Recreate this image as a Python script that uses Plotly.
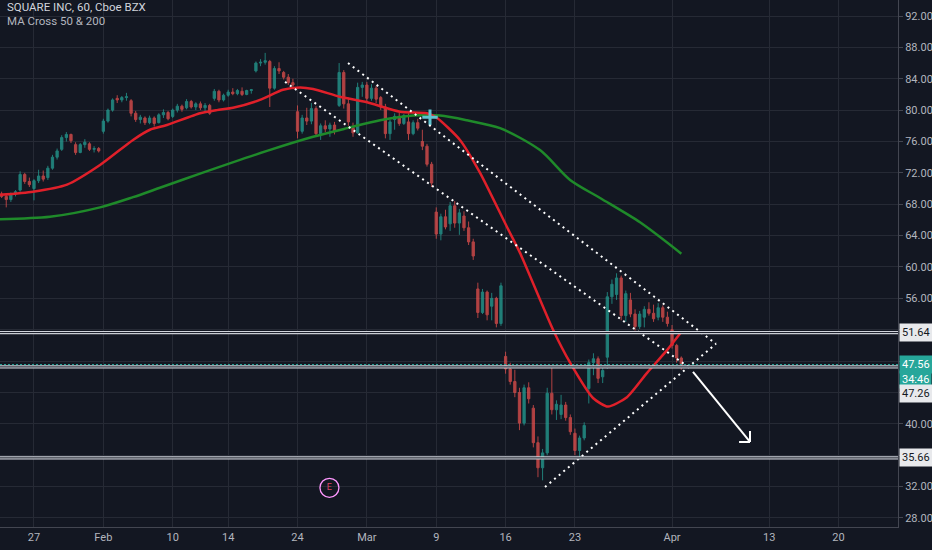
import plotly.graph_objects as go
import pandas as pd

# trading calendar (NYSE holidays inside the window removed)
holidays = ["2020-02-17", "2020-04-10"]
calendar = pd.bdate_range("2020-01-22", "2020-04-30").drop(pd.to_datetime(holidays))
origin = calendar.get_loc(pd.Timestamp("2020-01-27"))

session_dates = [d.strftime("%Y-%m-%d") for d in calendar if d <= pd.Timestamp("2020-04-01")]
bars_per_session = 3

# OHLC, 3 bars per session (Jan 22 ... Apr 1)
bar_open = [
    69.2, 69.5, 69.3,  69.0, 68.6, 69.3,  69.8, 71.8, 70.9,  70.0, 71.0, 71.6,
    71.4, 72.6, 74.0,  75.0, 76.5, 76.9,  75.6, 74.6, 75.6,  75.7, 75.0, 75.1,
    77.3, 78.6, 80.0,  81.5, 81.3, 81.6,  81.2, 79.6, 78.8,  79.0, 78.4, 79.0,
    78.4, 79.4, 79.7,  79.2, 80.0, 80.5,  80.3, 81.1, 80.4,  80.8, 80.3, 80.6,
    81.5, 82.4, 81.3,  81.9, 82.3, 82.1,  82.4, 82.0, 82.5,  85.0, 86.0, 86.1,
    86.2, 82.8, 85.3,  84.8, 84.2, 83.5,  79.8, 77.3, 79.0,  78.6, 80.2, 77.0,
    78.0, 77.6, 78.1,  80.6, 84.8, 80.8,  77.8, 77.1, 82.9,  83.2, 81.5, 82.8,
    81.6, 80.4, 77.0,  78.8, 79.2, 78.3,  78.5, 77.0, 78.4,  76.0, 75.4, 73.1,
    67.0, 64.2, 66.4,  65.5, 67.8, 65.6,  66.5, 65.0, 63.2,  57.2, 54.2, 56.8,
    55.0, 56.0, 52.8,  48.6, 47.0, 45.4,  44.0, 40.1, 44.6,  42.0, 37.6, 34.4,
    36.3, 43.9, 41.8,  41.2, 42.4, 40.8,  38.8, 36.6, 38.2,  44.5, 47.8, 48.3,
    46.0, 48.5, 56.2,  56.5, 58.6, 53.8,  55.8, 54.0, 52.4,  53.6, 54.6, 54.1,
    53.6, 54.8, 53.6,  52.0, 50.0, 48.4,
]
bar_high = [
    69.8, 69.9, 69.6,  69.4, 69.5, 69.8,  72.2, 72.0, 71.4,  71.2, 72.4, 72.3,
    72.9, 74.3, 75.1,  76.8, 77.2, 77.0,  75.9, 75.8, 76.3,  75.9, 75.4, 75.3,
    78.9, 80.2, 81.5,  81.9, 81.8, 82.2,  81.4, 79.9, 79.4,  79.2, 79.3, 79.2,
    79.6, 80.1, 79.9,  80.2, 80.8, 80.7,  81.4, 81.3, 81.0,  81.1, 80.9, 80.8,
    82.7, 82.6, 82.1,  82.6, 82.8, 82.7,  82.9, 82.6, 82.7,  86.2, 86.5, 87.3,
    86.4, 85.6, 86.1,  85.0, 84.6, 84.0,  80.6, 79.4, 80.3,  80.9, 80.5, 78.3,
    78.7, 78.4, 78.5,  86.0, 85.1, 81.6,  78.4, 83.5, 83.6,  83.6, 83.3, 83.1,
    81.8, 80.8, 78.8,  79.6, 79.7, 79.5,  79.6, 78.7, 78.9,  77.5, 75.7, 73.4,
    67.6, 66.8, 67.3,  68.3, 68.4, 67.4,  67.1, 65.8, 63.6,  58.0, 57.2, 57.0,
    56.7, 56.2, 58.0,  49.2, 47.8, 46.9,  44.6, 45.0, 45.3,  42.4, 38.4, 36.8,
    44.6, 47.3, 43.0,  43.7, 42.8, 41.2,  39.4, 38.5, 40.2,  48.2, 49.0, 48.6,
    47.2, 56.8, 58.4,  59.2, 58.9, 57.0,  56.7, 54.6, 54.4,  55.0, 55.5, 55.2,
    55.4, 55.1, 54.3,  52.6, 50.2, 48.6,
]
bar_low = [
    68.9, 69.0, 68.8,  67.6, 68.3, 69.0,  69.6, 70.6, 70.2,  68.5, 70.7, 70.9,
    71.1, 72.4, 73.7,  74.8, 76.0, 75.8,  74.3, 74.5, 75.2,  74.8, 74.6, 74.6,
    77.0, 78.4, 79.8,  80.9, 81.0, 81.2,  79.2, 78.5, 78.3,  78.1, 78.2, 77.9,
    78.3, 79.0, 78.7,  79.0, 79.7, 79.8,  80.1, 80.2, 80.0,  80.0, 79.9, 79.4,
    81.2, 81.0, 81.1,  81.7, 81.9, 81.9,  81.8, 81.9, 82.1,  84.8, 85.6, 85.8,
    80.4, 82.6, 84.6,  83.9, 83.2, 82.9,  76.4, 77.0, 78.1,  78.2, 76.6, 76.2,
    77.2, 76.6, 76.9,  80.4, 80.2, 78.0,  76.6, 77.0, 81.7,  81.0, 81.2, 80.9,
    80.0, 76.4, 76.2,  77.5, 78.0, 78.1,  76.2, 76.8, 77.4,  74.9, 72.8, 70.2,
    63.6, 63.4, 64.8,  64.6, 65.0, 64.1,  64.6, 62.8, 60.9,  53.5, 54.0, 53.2,
    53.2, 52.3, 52.5,  46.4, 45.0, 43.4,  39.2, 39.8, 42.6,  37.0, 33.2, 32.8,
    36.0, 41.2, 40.5,  40.6, 40.4, 38.6,  36.0, 35.7, 37.9,  42.6, 46.2, 45.2,
    45.2, 47.0, 55.3,  55.8, 53.2, 53.0,  53.6, 51.9, 52.1,  52.3, 53.8, 53.0,
    53.2, 53.0, 52.4,  49.6, 47.8, 46.9,
]
bar_close = [
    69.5, 69.3, 69.0,  68.6, 69.3, 69.6,  71.8, 70.9, 70.5,  71.0, 71.6, 71.2,
    72.6, 74.0, 74.8,  76.5, 76.9, 76.1,  74.6, 75.6, 75.9,  75.0, 75.1, 74.8,
    78.6, 80.0, 81.3,  81.3, 81.6, 81.7,  79.6, 78.8, 79.1,  78.4, 79.0, 78.3,
    79.4, 79.7, 78.9,  80.0, 80.5, 80.1,  81.1, 80.4, 80.8,  80.3, 80.6, 79.6,
    82.4, 81.3, 81.9,  82.3, 82.1, 82.5,  82.0, 82.5, 82.6,  86.0, 86.1, 86.3,
    82.8, 85.3, 85.0,  84.2, 83.5, 83.2,  77.3, 79.0, 78.6,  80.2, 77.0, 78.0,
    77.6, 78.1, 77.3,  84.8, 80.8, 78.5,  77.1, 82.9, 83.2,  81.5, 82.8, 81.4,
    80.4, 77.0, 78.5,  79.2, 78.3, 79.3,  77.0, 78.4, 77.7,  75.4, 73.1, 70.7,
    64.2, 66.4, 65.1,  67.8, 65.6, 66.9,  65.0, 63.2, 61.4,  54.2, 56.8, 53.9,
    56.0, 52.8, 57.6,  47.0, 45.4, 44.0,  40.1, 44.6, 43.2,  37.6, 34.4, 36.3,
    43.9, 41.8, 42.5,  42.4, 40.8, 39.0,  36.6, 38.2, 39.8,  47.8, 48.3, 45.8,
    46.8, 56.2, 57.8,  58.6, 53.8, 56.6,  54.0, 52.4, 54.0,  54.6, 54.1, 53.4,
    54.8, 53.6, 52.8,  50.0, 48.4, 47.56,
]

# moving averages, sampled (position in sessions from Jan 27, value)
ma50_pos = [-2.45, -0.07, 2.38, 4.76, 7.14, 8.36, 9.59, 11.97, 13.19, 14.35, 16.29, 17.95,
            19.18, 20.12, 22.06, 24.01, 26.39, 28.33, 29.06, 30.71, 32.16, 34.10, 35.04,
            37.42, 38.65, 40.30, 41.38, 42.75, 44.20, 45.64, 46.67]
ma50_val = [69.2, 69.6, 70.5, 73.0, 76.2, 77.5, 78.1, 79.6, 80.0, 80.3, 81.3, 82.6,
            82.9, 82.7, 81.7, 81.0, 79.8, 79.6, 79.0, 76.2, 72.0, 65.1, 61.8,
            52.0, 47.8, 43.3, 42.2, 43.4, 46.5, 49.4, 51.7]
ma200_pos = [-2.45, 1.15, 4.76, 7.14, 9.08, 11.97, 16.8, 20.12, 22.57, 24.95, 27.33,
             29.27, 31.22, 33.6, 36.48, 38.65, 40.81, 43.69, 46.67]
ma200_val = [66.1, 66.4, 67.6, 68.9, 70.1, 71.9, 74.8, 76.6, 77.7, 78.7, 79.3,
             79.3, 78.7, 77.7, 74.9, 71.1, 68.8, 65.7, 61.7]
ma_cross = (28.55, 79.1)

# drawings
wedge_upper = ([22.64, 49.17], [86.0, 50.2])
wedge_lower = ([18.10, 47.30], [83.6, 47.1])
wedge_base = ([36.84, 49.17], [31.95, 50.2])
arrow_path = ([47.51, 51.62, None, 51.62, 51.62, None, 51.62, 50.83],
              [46.62, 37.69, None, 37.69, 39.09, None, 37.69, 37.69])
levels = [51.64, 47.26, 35.66]
last_price = 47.56
countdown = "34:46"
earnings_day = 21.3

tick_dates = ["2020-01-27", "2020-02-03", "2020-02-10", "2020-02-14", "2020-02-24", "2020-03-02",
              "2020-03-09", "2020-03-16", "2020-03-23", "2020-04-01", "2020-04-13", "2020-04-20"]
tick_text = ["27", "Feb", "10", "14", "24", "Mar", "9", "16", "23", "Apr", "13", "20"]
price_ticks = list(range(28, 93, 4))
hidden_ticks = [36, 44, 48, 52]

#%%
def pos(date):
    return calendar.get_loc(pd.Timestamp(date)) - origin

bar_x = []
for d in session_dates:
    for k in range(bars_per_session):
        bar_x.append(pos(d) + k / bars_per_session)

BG = "#131722"
GRID = "#262a35"
TXT = "#b2b5be"
UP, DOWN = "#26a69a", "#ef5350"
FONT = "Roboto"

fig = go.Figure()

fig.add_trace(go.Candlestick(
    x=bar_x, open=bar_open, high=bar_high, low=bar_low, close=bar_close,
    increasing=dict(line=dict(color=UP, width=1), fillcolor=UP),
    decreasing=dict(line=dict(color=DOWN, width=1), fillcolor=DOWN),
    opacity=0.72, whiskerwidth=0, hoverinfo="skip"))

fig.add_trace(go.Scatter(x=ma200_pos, y=ma200_val, mode="lines",
                         line=dict(color="#1f8a2a", width=2.5, shape="spline", smoothing=0.8)))
fig.add_trace(go.Scatter(x=ma50_pos, y=ma50_val, mode="lines",
                         line=dict(color="#e0202a", width=2.5, shape="spline", smoothing=0.6)))
fig.add_trace(go.Scatter(x=[ma_cross[0]], y=[ma_cross[1]], mode="markers",
                         marker=dict(symbol="cross-thin", size=11,
                                     line=dict(color="#5fc4d0", width=3))))

# horizontal levels (double white lines)
for lv in levels:
    fig.add_hline(y=lv, line=dict(color="#d1d4dc", width=3.2))
    fig.add_hline(y=lv, line=dict(color=BG, width=1.0))
fig.add_hline(y=last_price, line=dict(color=UP, width=1, dash="2px,2px"))

# wedge / channel drawn with dots
for seg in (wedge_upper, wedge_lower, wedge_base):
    fig.add_trace(go.Scatter(x=seg[0], y=seg[1], mode="lines",
                             line=dict(color="#ffffff", width=2, dash="2px,4px")))
fig.add_trace(go.Scatter(x=arrow_path[0], y=arrow_path[1], mode="lines",
                         line=dict(color="#ffffff", width=2)))

# earnings marker
fig.add_trace(go.Scatter(x=[earnings_day], y=[31.85], mode="markers+text", text=["E"],
                         textposition="middle center",
                         textfont=dict(color="#d8436a", size=9, family=FONT),
                         marker=dict(symbol="circle-open", size=19,
                                     line=dict(color="#b7284f", width=1.3))))

# price scale labels
boxes = [(levels[0], levels[0], 0, "#e8e9ec", BG),
         (last_price, last_price, 0, UP, "#ffffff"),
         (last_price, countdown, -15, UP, "#ffffff"),
         (levels[1], levels[1], -27, "#e8e9ec", BG),
         (levels[2], levels[2], 0, "#e8e9ec", BG)]
for y, label, shift, bg, fg in boxes:
    txt = label if isinstance(label, str) else f"{label:.2f}"
    fig.add_annotation(x=1, xref="paper", y=y, yref="y", yshift=shift, text=txt,
                       xanchor="left", yanchor="middle", showarrow=False, xshift=1,
                       bgcolor=bg, borderpad=2, font=dict(color=fg, size=11, family=FONT))

fig.add_annotation(x=0.006, y=0.986, xref="paper", yref="paper", xanchor="left", yanchor="middle",
                   text="SQUARE INC, 60, Cboe BZX", showarrow=False,
                   font=dict(color="#d1d4dc", size=11.5, family=FONT))
fig.add_annotation(x=0.006, y=0.961, xref="paper", yref="paper", xanchor="left", yanchor="middle",
                   text="MA Cross 50 & 200", showarrow=False,
                   font=dict(color=TXT, size=11.5, family=FONT))

fig.update_layout(
    width=932, height=550, showlegend=False,
    paper_bgcolor=BG, plot_bgcolor=BG,
    margin=dict(l=0, r=34, t=0, b=23),
    font=dict(family=FONT, color=TXT, size=11),
    xaxis=dict(range=[-2.45, 62.29], tickvals=[pos(d) for d in tick_dates], ticktext=tick_text,
               showgrid=True, gridcolor=GRID, zeroline=False, showline=True,
               linecolor="#434651", ticks="", rangeslider=dict(visible=False),
               tickfont=dict(color=TXT, size=11)),
    yaxis=dict(side="right", range=[26.85, 94.04], tickvals=price_ticks,
               ticktext=["" if t in hidden_ticks else f"{t:.2f}" for t in price_ticks],
               showgrid=True, gridcolor=GRID, zeroline=False, showline=True,
               linecolor="#434651", ticks="outside", ticklen=4, tickcolor="#434651",
               tickfont=dict(color=TXT, size=11)),
)

# page has a default 8px body margin; drop it so the chart fills the window
fig.write_html("out.html", config={"displayModeBar": False},
               post_script="document.body.style.margin='0';document.body.style.background='#131722';")
